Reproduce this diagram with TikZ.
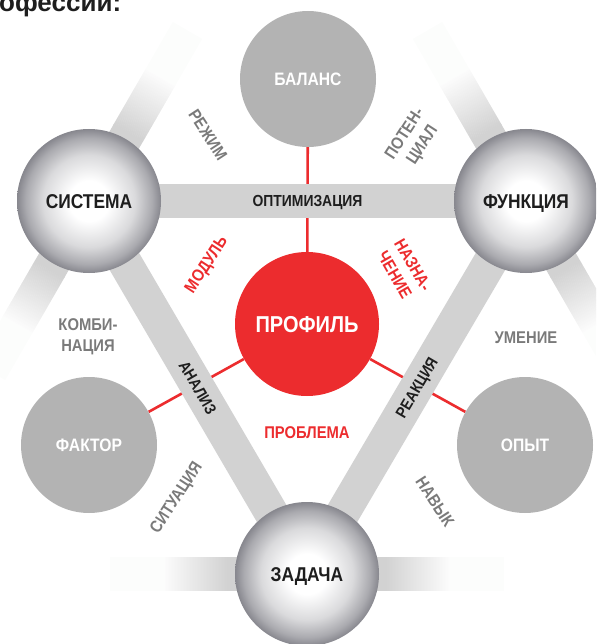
\documentclass[tikz,border=0pt]{standalone}
\usepackage{fontspec}
\newfontfamily\lab{Liberation Sans}[FakeStretch=0.87]
\newfontfamily\headf{Liberation Sans}
\pgfdeclarelayer{bg}
\pgfsetlayers{bg,main}
\definecolor{bandgrey}{RGB}{210,210,210}
\definecolor{fadewhite}{RGB}{252,253,252}
\definecolor{circgrey}{RGB}{179,179,179}
\definecolor{profred}{RGB}{236,44,46}
\definecolor{lblgrey}{RGB}{122,122,122}
\definecolor{txtblack}{RGB}{30,30,30}
\definecolor{silvmid}{RGB}{218,218,220}
\definecolor{silvdark}{RGB}{170,170,175}
\definecolor{silvedge}{RGB}{135,135,142}
\pgfdeclareradialshading{silverball}{\pgfpoint{0bp}{0bp}}{color(0bp)=(white); color(7bp)=(white); color(16bp)=(silvmid); color(22bp)=(silvdark); color(25bp)=(silvedge); color(50bp)=(silvedge)}
\newcommand\fadeband[2]{%
  \begin{scope}[shift={(#1.center)}, rotate=#2]
    \fill[bandgrey] (60,-17) rectangle (79,17);
    \foreach \k in {0,...,64}{%
      \pgfmathtruncatemacro\cv{210+42*\k/64}%
      \definecolor{stripc}{RGB}{\cv,\cv,\cv}%
      \fill[stripc] (78+\k,-17) rectangle (79.3+\k,17);
    }
    \fill[fadewhite] (142.5,-17) rectangle (197,17);
  \end{scope}}
\begin{document}
\begin{tikzpicture}[x=1pt,y=-1pt,
  silver/.style={circle, minimum size=144pt, inner sep=0pt, shading=silverball, text=txtblack,
    font=\lab\bfseries\fontsize{20}{20}\selectfont, text height=14.4pt, text depth=0pt},
  greyc/.style={circle, minimum size=136pt, inner sep=0pt, fill=circgrey, text=white,
    font=\lab\bfseries\fontsize{18}{18}\selectfont, text height=12.96pt, text depth=0pt},
  redc/.style={circle, minimum size=144pt, inner sep=0pt, fill=profred, text=white,
    font=\lab\bfseries\fontsize{23}{23}\selectfont, text height=16.56pt, text depth=0pt},
  lbl/.style={inner sep=0pt, text=lblgrey, align=center, font=\lab\bfseries\fontsize{17}{21}\selectfont},
  rlbl/.style={lbl, text=profred},
  bandlbl/.style={inner sep=0pt, text=txtblack, font=\lab\bfseries\fontsize{16}{16}\selectfont,
    text height=11.52pt, text depth=0pt},
  band/.style={line width=34pt, bandgrey},
  redline/.style={line width=2.6pt, profred}]
\useasboundingbox (0,0) rectangle (596,644);
\clip (0,0) rectangle (596,644);

\node[anchor=base west, inner sep=0pt, text=txtblack, font=\headf\bfseries\fontsize{26}{26}\selectfont] (head) at (-1,11.5) {офессии:};

\node[greyc] (bal) at (308,79) {БАЛАНС};
\node[silver] (sys) at (89,201) {СИСТЕМА};
\node[silver] (fun) at (526,201) {ФУНКЦИЯ};
\node[redc] (prof) at (307,324) {ПРОФИЛЬ};
\node[greyc] (fak) at (89,445) {ФАКТОР};
\node[greyc] (opy) at (525,445) {ОПЫТ};
\node[silver] (zad) at (307,574) {ЗАДАЧА};

\node[lbl, rotate=-57] (rezhim) at (208,135) {РЕЖИМ};
\node[lbl, rotate=57] (poten) at (414,140) {ПОТЕН-\\ЦИАЛ};
\node[rlbl, rotate=57] (modul) at (207,265) {МОДУЛЬ};
\node[rlbl, rotate=-60] (nazna) at (404,270) {НАЗНА-\\ЧЕНИЕ};
\node[lbl] (kombi) at (88,337) {КОМБИ-\\НАЦИЯ};
\node[lbl] (umenie) at (526,338) {УМЕНИЕ};
\node[rlbl] (problema) at (307,433) {ПРОБЛЕМА};
\node[lbl, rotate=57] (situacia) at (177,498) {СИТУАЦИЯ};
\node[lbl, rotate=-57] (navyk) at (435,502) {НАВЫК};

\begin{pgfonlayer}{bg}
  \clip (0,0) rectangle (596,644);
  \fadeband{sys}{60}
  \fadeband{sys}{240}
  \fadeband{fun}{120}
  \fadeband{fun}{-60}
  \fadeband{zad}{180}
  \fadeband{zad}{0}
  \draw[redline] (bal) -- (prof);
  \draw[redline] (prof) -- (fak);
  \draw[redline] (prof) -- (opy);
  \draw[band] (sys.center) -- node[bandlbl] (optim) {ОПТИМИЗАЦИЯ} (fun.center);
  \draw[band] (sys.center) -- node[bandlbl, sloped] (analiz) {АНАЛИЗ} (zad.center);
  \draw[band] (fun.center) -- node[bandlbl, sloped] (reakc) {РЕАКЦИЯ} (zad.center);
\end{pgfonlayer}
\end{tikzpicture}
\end{document}
